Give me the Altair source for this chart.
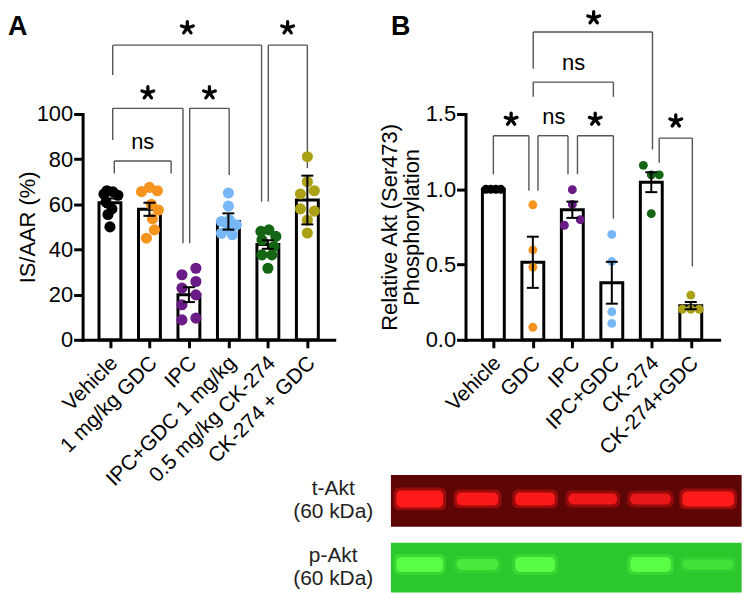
import json
import math
import altair as alt
import pandas as pd

FONT = "Liberation Sans"

# ---------------- Panel A: infarct size ----------------
cats_a = ["Vehicle", "1 mg/kg GDC", "IPC", "IPC+GDC 1 mg/kg", "0.5 mg/kg CK-274", "CK-274 + GDC"]
colors = ["#000000", "#f7941d", "#6a1b86", "#78b7f5", "#146514", "#aaa116"]
mean_a = [60.7, 57.8, 20.0, 52.4, 42.2, 61.9]
err_a = [1.9, 2.9, 3.3, 3.6, 1.9, 10.8]
vals_a = [
    [66.0, 65.5, 64.5, 64.0, 61.0, 58.0, 55.5, 50.0],
    [67.5, 65.6, 66.0, 60.0, 57.5, 53.6, 48.7, 45.0],
    [31.7, 28.8, 25.8, 22.9, 19.9, 15.5, 9.6, 8.8],
    [65.0, 59.2, 53.1, 52.4, 50.9, 49.4, 47.2, 46.5],
    [48.7, 48.0, 45.8, 44.2, 41.3, 37.6, 37.6, 31.7],
    [81.1, 70.0, 64.6, 66.0, 58.0, 57.0, 53.0, 47.3],
]
# brackets: left x, right x, bar level, left leg end, right leg end, label
br_a_x1 = [0.11, 0.07, 2.02, 0.07, 4.01]
br_a_x2 = [1.55, 1.85, 3.02, 3.84, 5.0]
br_a_y = [79.2, 102.5, 102.5, 130.5, 130.5]
br_a_yl = [73.7, 88.5, 42.8, 117.3, 61.2]
br_a_yr = [73.7, 42.8, 73.0, 61.2, 76.0]
br_a_lab = ["ns", "*", "*", "*", "*"]
br_a_labx = [0.83, 0.96, 2.52, 1.96, 4.5]
br_a_laby = [87.0, 109.1, 109.1, 137.9, 137.9]

# ---------------- Panel B: Akt phosphorylation ----------------
cats_b = ["Vehicle", "GDC", "IPC", "IPC+GDC", "CK-274", "CK-274+GDC"]
mean_b = [1.0, 0.515, 0.864, 0.379, 1.047, 0.227]
err_b = [0.0, 0.17, 0.054, 0.139, 0.066, 0.024]
vals_b = [
    [1.0, 1.0, 1.0, 1.0],
    [0.897, 0.597, 0.483, 0.083],
    [0.997, 0.899, 0.761, 0.798],
    [0.70, 0.52, 0.186, 0.109],
    [1.159, 1.096, 1.096, 0.838],
    [0.297, 0.203, 0.203, 0.203],
]
br_b_x1 = [0.0, 1.13, 2.13, 1.01, 1.01, 4.20]
br_b_x2 = [0.90, 1.89, 3.04, 3.04, 4.03, 5.04]
br_b_y = [1.356, 1.356, 1.356, 1.712, 2.045, 1.34]
br_b_yl = [1.10, 0.99, 1.10, 1.614, 1.80, 1.176]
br_b_yr = [0.99, 1.10, 0.805, 1.614, 1.264, 0.488]
br_b_lab = ["*", "ns", "*", "ns", "*", "*"]
br_b_labx = [0.45, 1.53, 2.58, 2.03, 2.54, 4.62]
br_b_laby = [1.461, 1.472, 1.461, 1.832, 2.135, 1.45]

# ---------------- Western blot ----------------
blot_rows = ["t-Akt\n(60 kDa)", "p-Akt\n(60 kDa)"]
t_akt = [1.0, 0.95, 0.95, 0.85, 0.8, 1.0]
p_akt = [0.95, 0.55, 0.9, 0.0, 0.95, 0.4]

# ---------------- layout / style constants ----------------
PLOT_H = 227
A_W, B_W = 253, 255
STEP = 39.7
A_FIRST, B_FIRST = 27.5, 28.0
GAP = 132
a_xdom = [-A_FIRST / STEP, (A_W - A_FIRST) / STEP]
b_xdom = [-B_FIRST / STEP, (B_W - B_FIRST) / STEP]
BAR_HALF = 11.0 / STEP
CAP_HALF = 6.0 / STEP
jit_a = [
    [-3, 3, -6, 8, -4, 2, -2, 0],
    [0, -8, 8, 2, 9, 3, 5, -3],
    [7, -7, 7, -7, 7, -7, 7, -7],
    [0, 0, 1, -7, 8, 0, -7, 4],
    [1, -7, 8, -6, 6, -6, 4, 0],
    [0, 0, -7, 7, -7, 7, 0, 0],
]
jit_b = [
    [-7.5, -2.5, 2.5, 7.5],
    [0, 0, 0, 0],
    [0, 0, -8, 8],
    [0, 0, 0, 0],
    [-8, 0, 8, 0],
    [0, -8.5, 0, 8.5],
]
STAR_R = 6.2          # px, asterisk arm length
STAR_ARMS = 5
LINE_GREY = "#555555"

# blot geometry (lane pitch 58 px, lane 0 at 46 px left of panel B plot)
LANE_PX = 58.0
LANE0_PX = -46.0
blot_xdom = [-LANE0_PX / LANE_PX, (B_W - LANE0_PX) / LANE_PX]
ROW_PX = 67.0
ROW0_PX = 389.0
blot_ydom = [-ROW0_PX / ROW_PX, (PLOT_H - ROW0_PX) / ROW_PX]
strip_half = [26.0, 25.0]
band_off = [-2.0, -3.0]
band_w = [47, 42, 40, 49, 41, 52]
band_h = [[17, 13, 13, 11, 11, 15], [15, 11, 15, 0, 15, 10]]
strip_fill = ["#5e0505", "#2cc72c"]
band_halo = ["#c81010", "#44e43a"]
band_core = ["#ff1a1a", "#5cff48"]
LABEL_SHIFT = -11.5   # px: centre two-line label block on the strip


def make_frames(vals, means, errs, jits):
    pts, bars, errv, caps = [], [], [], []
    for i, vs in enumerate(vals):
        for v, j in zip(vs, jits[i]):
            pts.append({"x": i + j / STEP, "y": v, "color": colors[i]})
        bars.append({"x": i - BAR_HALF, "x2": i + BAR_HALF, "y": 0.0, "y2": means[i]})
        lo, hi = means[i] - errs[i], means[i] + errs[i]
        errv.append({"x": i, "y": lo, "y2": hi})
        caps.append({"x": i - CAP_HALF, "x2": i + CAP_HALF, "y": lo})
        caps.append({"x": i - CAP_HALF, "x2": i + CAP_HALF, "y": hi})
    return pd.DataFrame(pts), pd.DataFrame(bars), pd.DataFrame(errv), pd.DataFrame(caps)


def bracket_frames(x1s, x2s, ys, yls, yrs, labs, lxs, lys, ypx):
    segs, arms, ns = [], [], []
    for x1, x2, y, yl, yr in zip(x1s, x2s, ys, yls, yrs):
        segs.append({"x": x1, "x2": x2, "y": y, "y2": y})
        segs.append({"x": x1, "x2": x1, "y": yl, "y2": y})
        segs.append({"x": x2, "x2": x2, "y": yr, "y2": y})
    for lab, lx, ly in zip(labs, lxs, lys):
        if lab == "ns":
            ns.append({"lab": lab, "x": lx, "y": ly})
            continue
        for k in range(STAR_ARMS):
            ang = math.pi / 2 + 2 * math.pi * k / STAR_ARMS
            dx = STAR_R * math.cos(ang) / STEP
            dy = STAR_R * math.sin(ang) / ypx
            arms.append({"x": lx, "x2": lx + dx, "y": ly + 0.6 / ypx, "y2": ly + 0.6 / ypx + dy})
    return pd.DataFrame(segs), pd.DataFrame(arms), pd.DataFrame(ns)


def panel(cats, vals, means, errs, jits, brackets, xdom, ydom, yvals, yfmt, ytitle,
          width, letter, pt_size, title_baseline):
    xaxis = alt.Axis(values=list(range(len(cats))),
                     labelExpr=json.dumps(cats) + "[datum.value]",
                     labelAngle=-45, labelAlign="right", labelBaseline="middle",
                     labelPadding=12, labelOffset=4, tickSize=8, labelFontSize=21,
                     labelFlush=False, labelOverlap=False, labelBound=False, title=None,
                     grid=False)
    yaxis = alt.Axis(values=yvals, format=yfmt, title=ytitle, tickSize=9, labelPadding=1,
                     labelFontSize=22, titleFontSize=22, titlePadding=2, titleLineHeight=22,
                     titleBaseline=title_baseline, grid=False, labelFlush=False)
    xs = alt.Scale(domain=xdom, nice=False, zero=False)
    ys = alt.Scale(domain=ydom, nice=False, zero=False)
    ypx = PLOT_H / (ydom[1] - ydom[0])

    def X(f):
        return alt.X(f"{f}:Q", scale=xs, axis=xaxis)

    def Y(f):
        return alt.Y(f"{f}:Q", scale=ys, axis=yaxis)

    pts, bars, errv, caps = make_frames(vals, means, errs, jits)
    segs, arms, ns = bracket_frames(*brackets, ypx)

    seg_l = alt.Chart(segs).mark_rule(color=LINE_GREY, strokeWidth=1.4).encode(
        x=X("x"), x2="x2:Q", y=Y("y"), y2="y2:Q")
    bar_l = alt.Chart(bars).mark_rect(fill="white", stroke="black", strokeWidth=3).encode(
        x=X("x"), x2="x2:Q", y=Y("y"), y2="y2:Q")
    pt_l = alt.Chart(pts).mark_circle(size=pt_size, opacity=1).encode(
        x=X("x"), y=Y("y"), color=alt.Color("color:N", scale=None, legend=None))
    ev_l = alt.Chart(errv).mark_rule(color="black", strokeWidth=2).encode(
        x=X("x"), y=Y("y"), y2="y2:Q")
    cap_l = alt.Chart(caps).mark_rule(color="black", strokeWidth=2).encode(
        x=X("x"), x2="x2:Q", y=Y("y"))
    star_l = alt.Chart(arms).mark_rule(color="black", strokeWidth=3.3, strokeCap="round").encode(
        x=X("x"), x2="x2:Q", y=Y("y"), y2="y2:Q")
    ns_l = alt.Chart(ns).mark_text(fontSize=22, baseline="alphabetic", dy=5.7,
                                   color="black").encode(x=X("x"), y=Y("y"), text="lab:N")
    let_l = alt.Chart(pd.DataFrame({"t": [letter]})).mark_text(
        fontSize=27, fontWeight="bold", align="left", baseline="alphabetic",
        color="black").encode(text="t:N", x=alt.value(-75), y=alt.value(-79))
    return alt.layer(seg_l, bar_l, pt_l, ev_l, cap_l, star_l, ns_l, let_l).properties(
        width=width, height=PLOT_H)


chart_a = panel(cats_a, vals_a, mean_a, err_a, jit_a,
                (br_a_x1, br_a_x2, br_a_y, br_a_yl, br_a_yr, br_a_lab, br_a_labx, br_a_laby),
                a_xdom, [0, 100], [0, 20, 40, 60, 80, 100], "d", "IS/AAR (%)", A_W, "A", 125,
                "alphabetic")

core_b = panel(cats_b, vals_b, mean_b, err_b, jit_b,
               (br_b_x1, br_b_x2, br_b_y, br_b_yl, br_b_yr, br_b_lab, br_b_labx, br_b_laby),
               b_xdom, [0, 1.5], [0, 0.5, 1.0, 1.5], ".1f",
               ["Relative Akt (Ser473)", "Phosphorylation"], B_W, "B", 80, "bottom")

# ---- blot frames ----
strips, halos, cores, labels = [], [], [], []
for r, intens in enumerate([t_akt, p_akt]):
    hh = strip_half[r] / ROW_PX
    strips.append({"x": -0.5, "x2": 5.58, "y": r - hh, "y2": r + hh, "fill": strip_fill[r]})
    labels.append({"x": -1.5, "y": r + LABEL_SHIFT / ROW_PX, "t": blot_rows[r]})
    for i, v in enumerate(intens):
        if v <= 0 or band_h[r][i] <= 0:
            continue
        c = r + band_off[r] / ROW_PX
        hw = band_w[i] / 2 / LANE_PX
        bh = band_h[r][i] / 2 / ROW_PX
        halos.append({"x": i - hw - 3 / LANE_PX, "x2": i + hw + 3 / LANE_PX,
                      "y": c - bh - 3 / ROW_PX, "y2": c + bh + 3 / ROW_PX,
                      "fill": band_halo[r], "op": 0.6 * v})
        cores.append({"x": i - hw, "x2": i + hw, "y": c - bh, "y2": c + bh,
                      "fill": band_core[r], "op": v})

bx = alt.Scale(domain=blot_xdom, nice=False, zero=False)
by = alt.Scale(domain=blot_ydom, nice=False, zero=False, reverse=True)


def BX(f):
    return alt.X(f"{f}:Q", scale=bx, axis=None)


def BY(f):
    return alt.Y(f"{f}:Q", scale=by, axis=None)


strip_l = alt.Chart(pd.DataFrame(strips)).mark_rect().encode(
    x=BX("x"), x2="x2:Q", y=BY("y"), y2="y2:Q",
    fill=alt.Fill("fill:N", scale=None, legend=None))
halo_l = alt.Chart(pd.DataFrame(halos)).mark_rect(cornerRadius=6).encode(
    x=BX("x"), x2="x2:Q", y=BY("y"), y2="y2:Q",
    fill=alt.Fill("fill:N", scale=None, legend=None),
    opacity=alt.Opacity("op:Q", scale=None, legend=None))
core_l = alt.Chart(pd.DataFrame(cores)).mark_rect(cornerRadius=5).encode(
    x=BX("x"), x2="x2:Q", y=BY("y"), y2="y2:Q",
    fill=alt.Fill("fill:N", scale=None, legend=None),
    opacity=alt.Opacity("op:Q", scale=None, legend=None))
lab_l = alt.Chart(pd.DataFrame(labels)).mark_text(
    lineBreak="\n", fontSize=21, lineHeight=23, align="center", baseline="middle",
    color="#222222").encode(x=BX("x"), y=BY("y"), text="t:N")

blot = alt.layer(strip_l, halo_l, core_l, lab_l)
chart_b = alt.layer(core_b, blot).resolve_scale(x="independent", y="independent")

chart = alt.hconcat(chart_a, chart_b, spacing=GAP, bounds="flush", padding=0).configure(
    font=FONT, padding=0
).configure_view(strokeWidth=0).configure_axis(
    domainColor="black", tickColor="black", labelColor="black", titleColor="black",
    domainWidth=3, tickWidth=3, domainCap="square", labelFont=FONT, titleFont=FONT,
    titleFontWeight="normal"
)

chart.save("out.html", embed_options={"renderer": "svg", "actions": False})
